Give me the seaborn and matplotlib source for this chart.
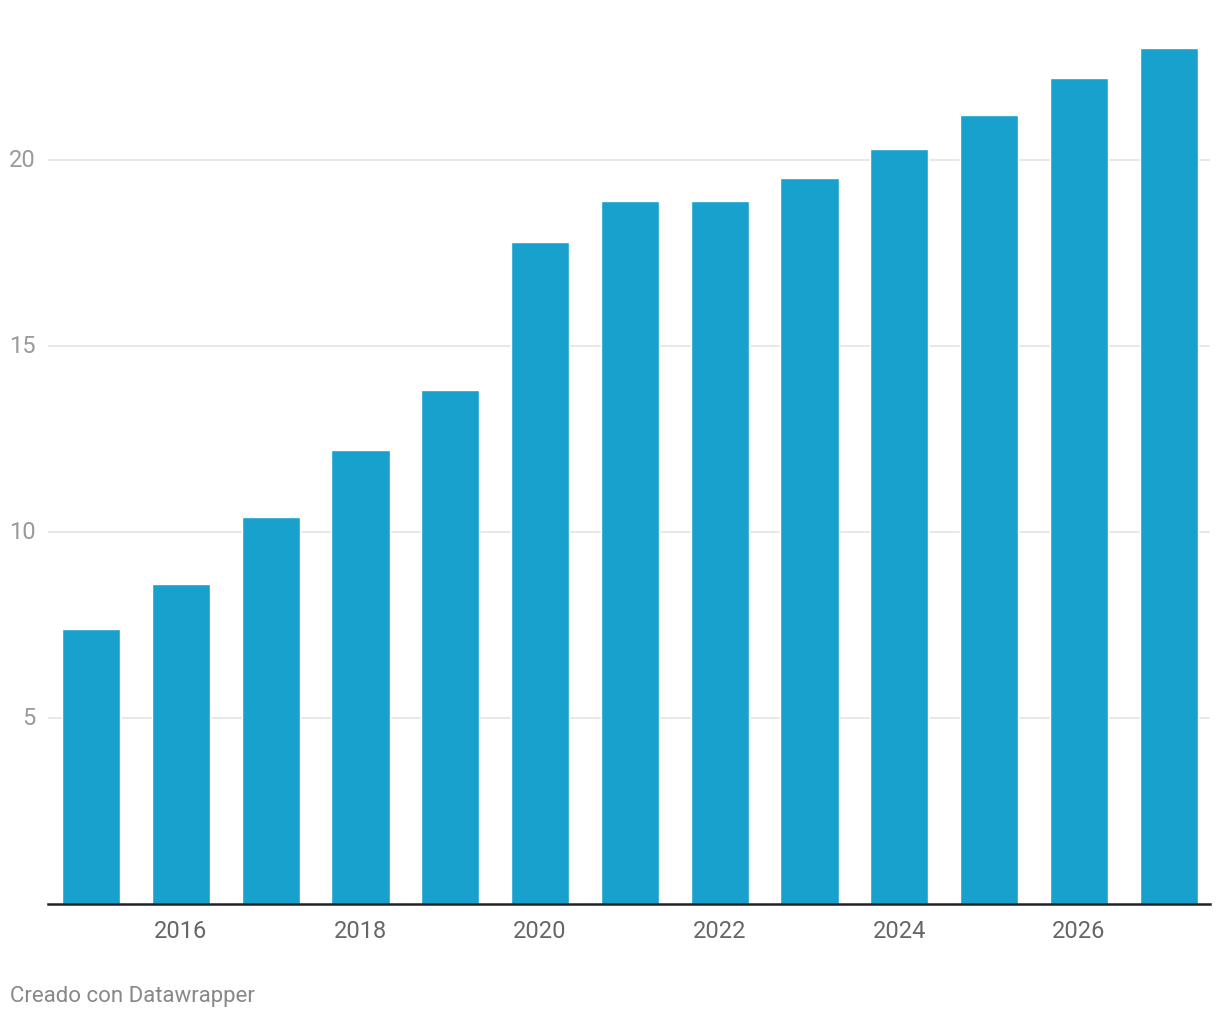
import pandas as pd
import matplotlib.pyplot as plt
import seaborn as sns

years = [2015, 2016, 2017, 2018, 2019, 2020, 2021, 2022, 2023, 2024, 2025, 2026, 2027]
values = [7.4, 8.6, 10.4, 12.2, 13.8, 17.8, 18.9, 18.9, 19.5, 20.3, 21.2, 22.2, 23.0]
yticks = [5, 10, 15, 20]
xlabels = [2016, 2018, 2020, 2022, 2024, 2026]

df = pd.DataFrame({'year': years, 'value': values})

sns.set_style("white")
plt.rcParams['font.family'] = ['Roboto', 'DejaVu Sans']

fig = plt.figure(figsize=(12.2, 10.2), dpi=100)
ax = fig.add_axes([48/1220, 1 - 905/1020, 1162/1220, 895/1020])

sns.barplot(data=df, x='year', y='value', color='#18a1cd', width=0.646,
            saturation=1, ax=ax, zorder=2)

ax.set_xlim(-0.48, 12.46)
ax.set_ylim(0, 24.05)
ax.set_yticks(yticks)
ax.set_yticklabels([str(t) for t in yticks])
ax.yaxis.grid(True, color='#e4e4e4', linewidth=1.2, zorder=0)
ax.set_axisbelow(True)

pos = [years.index(y) for y in xlabels]
ax.set_xticks(pos)
ax.set_xticklabels([str(y) for y in xlabels])

ax.tick_params(axis='y', length=0, labelsize=17, labelcolor='#9a9a9a', pad=9)
ax.tick_params(axis='x', length=0, labelsize=17, labelcolor='#666666', pad=11)
for lbl in ax.get_yticklabels():
    lbl.set_verticalalignment('center')

for s in ['top', 'right', 'left']:
    ax.spines[s].set_visible(False)
ax.spines['bottom'].set_color('#222222')
ax.spines['bottom'].set_linewidth(1.8)
ax.spines['bottom'].set_zorder(3)

ax.set_xlabel('')
ax.set_ylabel('')

fig.text(10/1220, 1 - 997/1020, 'Creado con Datawrapper', fontsize=16,
         color='#888888', ha='left', va='center')

fig.savefig('out.png', dpi=100)
plt.close()
